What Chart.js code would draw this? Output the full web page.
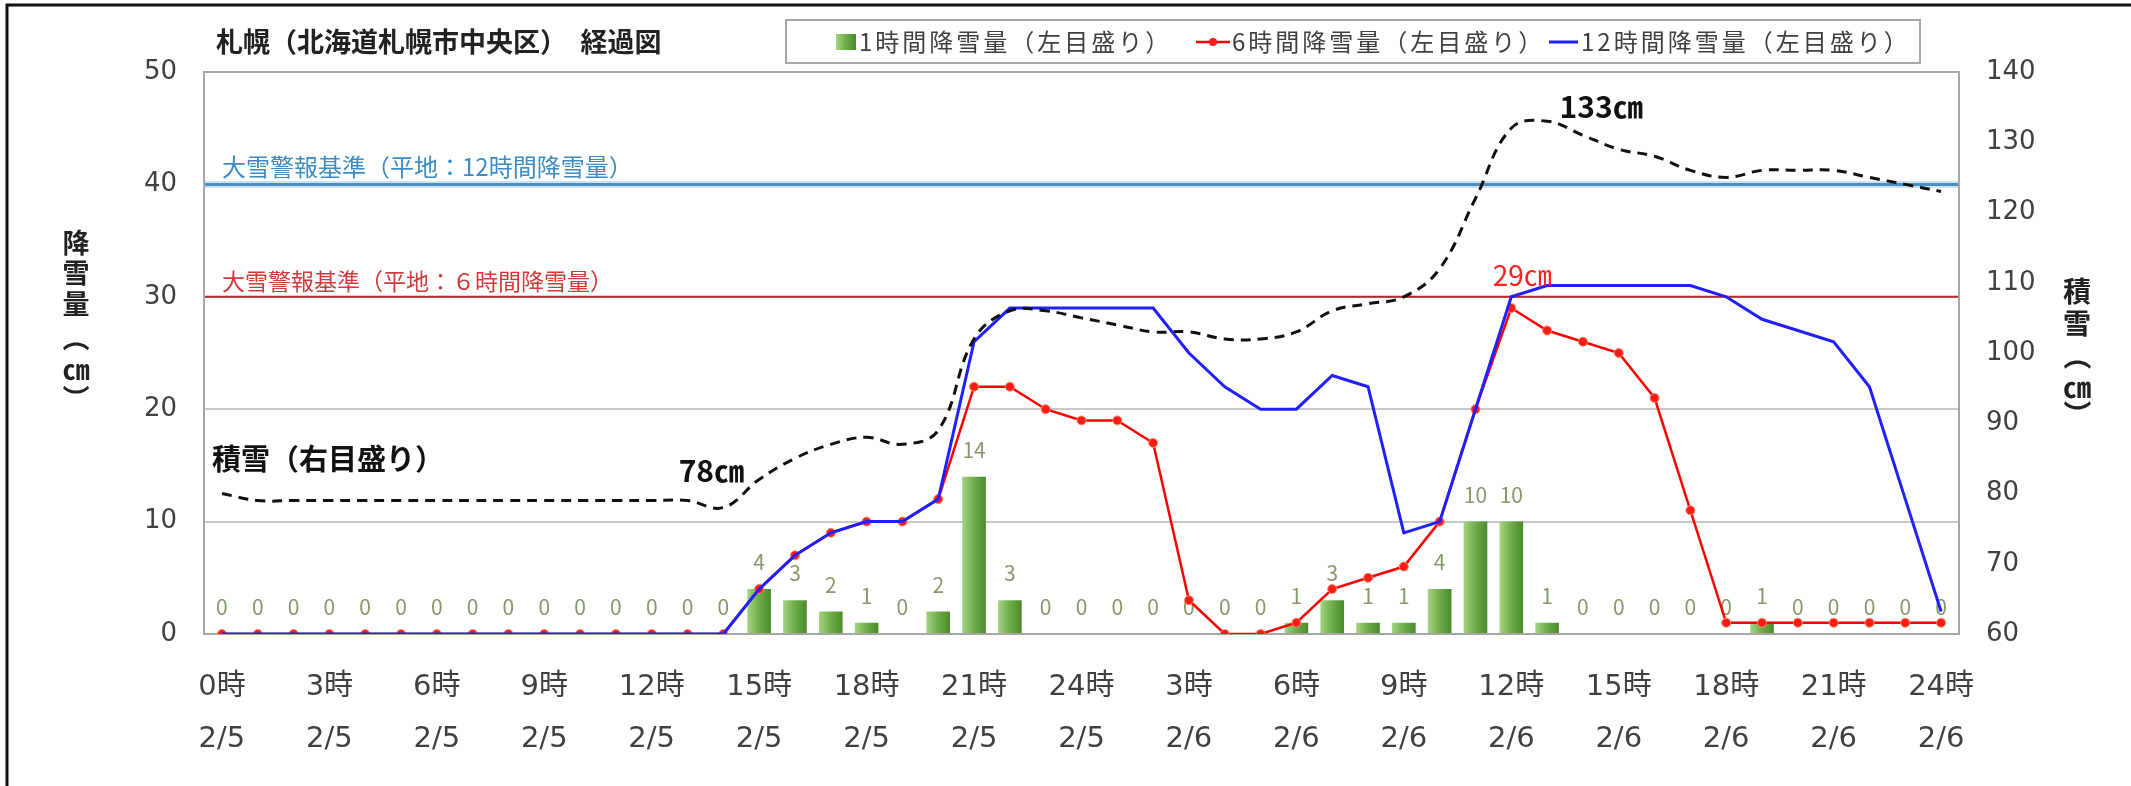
<!DOCTYPE html>
<html lang="ja">
<head>
<meta charset="utf-8">
<title>札幌（北海道札幌市中央区） 経過図</title>
<script src="https://cdn.jsdelivr.net/npm/chart.js@4.4.1/dist/chart.umd.min.js"></script>
<style>
  html, body { margin: 0; padding: 0; background: #fff; }
  #wrap { width: 2131px; height: 786px; }
</style>
</head>
<body>
<div id="wrap"><canvas id="snowChart" width="2131" height="786"></canvas></div>
<script>
// categories: hour + date
const categories = [
  "0時 2/5", "1時 2/5", "2時 2/5", "3時 2/5", "4時 2/5", "5時 2/5", "6時 2/5",
  "7時 2/5", "8時 2/5", "9時 2/5", "10時 2/5", "11時 2/5", "12時 2/5", "13時 2/5",
  "14時 2/5", "15時 2/5", "16時 2/5", "17時 2/5", "18時 2/5", "19時 2/5", "20時 2/5",
  "21時 2/5", "22時 2/5", "23時 2/5", "24時 2/5",
  "1時 2/6", "2時 2/6", "3時 2/6", "4時 2/6", "5時 2/6", "6時 2/6", "7時 2/6",
  "8時 2/6", "9時 2/6", "10時 2/6", "11時 2/6", "12時 2/6", "13時 2/6", "14時 2/6",
  "15時 2/6", "16時 2/6", "17時 2/6", "18時 2/6", "19時 2/6", "20時 2/6", "21時 2/6",
  "22時 2/6", "23時 2/6", "24時 2/6",
];

// 1時間降雪量 (cm)
const hourly = [
  0, 0, 0, 0, 0, 0, 0, 0, 0, 0, 0, 0, 0, 0, 0,
  4, 3, 2, 1, 0, 2, 14, 3,
  0, 0, 0, 0, 0, 0, 0,
  1, 3, 1, 1, 4, 10, 10, 1,
  0, 0, 0, 0, 0, 1, 0, 0, 0, 0, 0,
];

// 6時間降雪量 (cm)
const sixHour = [
  0, 0, 0, 0, 0, 0, 0, 0, 0, 0, 0, 0, 0, 0, 0,
  4, 7, 9, 10, 10, 12, 22, 22, 20, 19, 19, 17, 3, 0, 0,
  1, 4, 5, 6, 10, 20, 29, 27, 26, 25, 21, 11,
  1, 1, 1, 1, 1, 1, 1,
];

// 12時間降雪量 (cm)
const twelveHour = [
  0, 0, 0, 0, 0, 0, 0, 0, 0, 0, 0, 0, 0, 0, 0,
  4, 7, 9, 10, 10, 12, 26, 29, 29, 29, 29, 29, 25, 22, 20,
  20, 23, 22, 9, 10, 20, 30, 31, 31, 31, 31, 31,
  30, 28, 27, 26, 22, 12, 2,
];

// 積雪 (cm, right axis)
const depth = [
  80, 79, 79, 79, 79, 79, 79, 79, 79, 79, 79, 79, 79, 79, 78,
  82, 85, 87, 88, 87, 89, 102, 106, 106, 105, 104, 103, 103, 102, 102,
  103, 106, 107, 108, 112, 122, 132, 133, 131, 129, 128, 126,
  125, 126, 126, 126, 125, 124, 123,
];

// axis ticks
const leftTicks = [0, 10, 20, 30, 40, 50];
const rightTicks = [60, 70, 80, 90, 100, 110, 120, 130, 140];

// warning thresholds (left axis)
const warn12h = 40;
const warn6h = 30;

const FONT = '"Noto Sans CJK JP", "Noto Sans", sans-serif';
const TICKFONT = '"DejaVu Sans", "Noto Sans CJK JP", sans-serif';
const TXT = "#404040";
const barPct = 0.66;

Chart.defaults.font.family = FONT;

function barGradient(ctx, x, w) {
  const g = ctx.createLinearGradient(x - w / 2, 0, x + w / 2, 0);
  g.addColorStop(0, "#a6d483");
  g.addColorStop(0.45, "#72b04c");
  g.addColorStop(1, "#4a8a2c");
  return g;
}

// vertical (stacked) axis title, brackets turned 90deg
function drawVertical(ctx, chars, x, y0, steps, size) {
  ctx.save();
  ctx.font = "bold " + size + "px " + FONT;
  ctx.fillStyle = "#222";
  ctx.textAlign = "center";
  ctx.textBaseline = "middle";
  chars.forEach(function (c, i) {
    const y = y0 + steps[i];
    if (c === "（" || c === "）") {
      ctx.save();
      ctx.translate(x, y);
      ctx.rotate(Math.PI / 2);
      ctx.fillText(c, 0, 0);
      ctx.restore();
    } else {
      ctx.fillText(c, x, y);
    }
  });
  ctx.restore();
}

const decor = {
  id: "decor",
  beforeDraw(chart) {
    const { ctx } = chart;
    ctx.save();
    ctx.fillStyle = "#fff";
    ctx.fillRect(0, 0, chart.width, chart.height);
    // outer frame (top, left)
    ctx.strokeStyle = "#111";
    ctx.lineWidth = 3;
    ctx.beginPath();
    ctx.moveTo(7, chart.height);
    ctx.lineTo(7, 5);
    ctx.lineTo(chart.width, 5);
    ctx.stroke();
    ctx.restore();
  },
  beforeDatasetsDraw(chart) {
    const { ctx, chartArea } = chart;
    const yL = chart.scales.yL;
    ctx.save();
    // 12h warning line
    let y = yL.getPixelForValue(warn12h);
    ctx.strokeStyle = "rgba(150,200,230,0.5)";
    ctx.lineWidth = 7;
    ctx.beginPath();
    ctx.moveTo(chartArea.left, y);
    ctx.lineTo(chartArea.right, y);
    ctx.stroke();
    ctx.strokeStyle = "#4a8fc0";
    ctx.lineWidth = 3;
    ctx.beginPath();
    ctx.moveTo(chartArea.left, y);
    ctx.lineTo(chartArea.right, y);
    ctx.stroke();
    ctx.font = "24px " + FONT;
    ctx.textBaseline = "middle";
    ctx.fillStyle = "#3d8cc4";
    ctx.fillText("大雪警報基準（平地：12時間降雪量）", chartArea.left + 18, y - 18);
    // 6h warning line
    y = yL.getPixelForValue(warn6h);
    ctx.strokeStyle = "#b52a2a";
    ctx.lineWidth = 2;
    ctx.beginPath();
    ctx.moveTo(chartArea.left, y);
    ctx.lineTo(chartArea.right, y);
    ctx.stroke();
    ctx.font = "23px " + FONT;
    ctx.fillStyle = "#d03a3a";
    ctx.fillText("大雪警報基準（平地：６時間降雪量）", chartArea.left + 18, y - 16);
    // plot frame
    ctx.strokeStyle = "#a6a6a6";
    ctx.lineWidth = 2;
    ctx.strokeRect(chartArea.left, chartArea.top, chartArea.right - chartArea.left, chartArea.bottom - chartArea.top);
    ctx.restore();
  },
  afterDatasetDraw(chart, args) {
    if (args.index !== 0) return;
    // bar value labels
    const { ctx } = chart;
    ctx.save();
    ctx.font = "21px " + FONT;
    ctx.fillStyle = "#86996a";
    ctx.textAlign = "center";
    ctx.textBaseline = "middle";
    args.meta.data.forEach(function (bar, i) {
      ctx.fillText(String(hourly[i]), bar.x, bar.y - 27);
    });
    ctx.restore();
  },
  afterDatasetsDraw(chart) {
    const { ctx, chartArea } = chart;
    const x = chart.scales.x;
    const yL = chart.scales.yL;
    const yR = chart.scales.yR;
    ctx.save();
    ctx.textAlign = "center";
    ctx.textBaseline = "middle";
    ctx.fillStyle = "#111";
    ctx.font = "bold 30px " + FONT;
    ctx.fillText("78㎝", x.getPixelForValue(14) - 12, yR.getPixelForValue(depth[14]) - 37);
    ctx.fillText("133㎝", x.getPixelForValue(37) + 54, yR.getPixelForValue(depth[37]) - 15);
    ctx.font = "28px " + FONT;
    ctx.fillStyle = "#ff2020";
    ctx.fillText(sixHour[36] + "㎝", x.getPixelForValue(36) + 11, yL.getPixelForValue(sixHour[36]) - 33);
    ctx.textAlign = "left";
    ctx.fillStyle = "#111";
    ctx.font = "bold 29px " + FONT;
    ctx.fillText("積雪（右目盛り）", chartArea.left + 8, yL.getPixelForValue(15.6));
    ctx.restore();
  },
  afterDraw(chart) {
    const { ctx } = chart;
    const ds = chart.data.datasets;
    ctx.save();
    // title
    ctx.font = "bold 27px " + FONT;
    ctx.fillStyle = "#222";
    ctx.textBaseline = "middle";
    ctx.fillText("札幌（北海道札幌市中央区）　経過図", 216, 42);
    // legend box
    ctx.strokeStyle = "#a6a6a6";
    ctx.lineWidth = 2;
    ctx.strokeRect(786, 20, 1134, 43);
    ctx.font = "24px " + FONT;
    ctx.letterSpacing = "3px";
    // 1h bars
    ctx.fillStyle = barGradient(ctx, 846, 20);
    ctx.fillRect(836, 34, 20, 16);
    ctx.fillStyle = TXT;
    ctx.fillText(ds[0].label, 859, 42);
    // 6h line
    ctx.strokeStyle = ds[1].borderColor;
    ctx.lineWidth = 2.5;
    ctx.beginPath();
    ctx.moveTo(1196, 42);
    ctx.lineTo(1230, 42);
    ctx.stroke();
    ctx.fillStyle = ds[1].pointBackgroundColor;
    ctx.beginPath();
    ctx.arc(1213, 42, 4, 0, Math.PI * 2);
    ctx.fill();
    ctx.fillStyle = TXT;
    ctx.fillText(ds[1].label, 1232, 42);
    // 12h line
    ctx.strokeStyle = ds[2].borderColor;
    ctx.lineWidth = 3;
    ctx.beginPath();
    ctx.moveTo(1549, 42);
    ctx.lineTo(1578, 42);
    ctx.stroke();
    ctx.fillText(ds[2].label, 1581, 42);
    ctx.letterSpacing = "0px";
    ctx.restore();
    // axis titles
    drawVertical(ctx, ["降", "雪", "量", "（", "㎝", "）"], 76, 243, [0, 30, 61, 95, 127, 155], 27);
    drawVertical(ctx, ["積", "雪", "（", "㎝", "）"], 2077, 291, [0, 32, 65, 96, 123], 28);
  },
};

const ctx = document.getElementById("snowChart").getContext("2d");

const snowChart = new Chart(ctx, {
  type: "bar",
  data: {
    labels: categories,
    datasets: [
      {
        type: "bar",
        label: "1時間降雪量（左目盛り）",
        data: hourly,
        yAxisID: "yL",
        order: 4,
        barPercentage: barPct,
        categoryPercentage: 1,
        borderWidth: 0,
        backgroundColor: function (c) {
          const chart = c.chart;
          if (!chart.chartArea || !chart.scales.x) return "#6aa84f";
          const xs = chart.scales.x;
          const w = (xs.width / categories.length) * barPct;
          return barGradient(chart.ctx, xs.getPixelForValue(c.dataIndex), w);
        },
      },
      {
        type: "line",
        label: "6時間降雪量（左目盛り）",
        data: sixHour,
        yAxisID: "yL",
        order: 3,
        borderColor: "#ff0000",
        borderWidth: 2.5,
        pointRadius: 4.5,
        pointBackgroundColor: "#ff1a1a",
        pointBorderColor: "#ff9060",
        pointBorderWidth: 1,
        tension: 0,
      },
      {
        type: "line",
        label: "12時間降雪量（左目盛り）",
        data: twelveHour,
        yAxisID: "yL",
        order: 2,
        borderColor: "#1f1fff",
        borderWidth: 3,
        pointRadius: 0,
        tension: 0,
      },
      {
        type: "line",
        label: "積雪（右目盛り）",
        data: depth,
        yAxisID: "yR",
        order: 1,
        borderColor: "#111",
        borderWidth: 3,
        borderDash: [10, 7],
        pointRadius: 0,
        tension: 0.4,
      },
    ],
  },
  options: {
    responsive: false,
    animation: false,
    layout: {
      padding: { top: 72, left: 0, right: 0, bottom: 0 },
    },
    scales: {
      x: {
        type: "category",
        offset: true,
        grid: { display: false },
        border: { display: false },
        ticks: {
          autoSkip: false,
          maxRotation: 0,
          minRotation: 0,
          padding: 20,
          color: TXT,
          font: { family: TICKFONT, size: 29, lineHeight: 1.79 },
          callback: function (value, index) {
            return index % 3 === 0 ? categories[index].split(" ") : "";
          },
        },
        afterFit: function (s) {
          s.height = 152;
        },
      },
      yL: {
        position: "left",
        min: leftTicks[0],
        max: leftTicks[leftTicks.length - 1],
        grid: { color: "#c8c8c8", lineWidth: 2, drawTicks: false },
        border: { color: "#a6a6a6", width: 2 },
        afterBuildTicks: function (s) {
          s.ticks = leftTicks.map(function (v) { return { value: v }; });
        },
        ticks: {
          padding: 27,
          color: TXT,
          font: { family: TICKFONT, size: 26 },
        },
        afterFit: function (s) {
          s.width = 204;
        },
      },
      yR: {
        position: "right",
        min: rightTicks[0],
        max: rightTicks[rightTicks.length - 1],
        grid: { display: false, drawTicks: false },
        border: { color: "#a6a6a6", width: 2 },
        afterBuildTicks: function (s) {
          s.ticks = rightTicks.map(function (v) { return { value: v }; });
        },
        ticks: {
          padding: 27,
          color: TXT,
          font: { family: TICKFONT, size: 26 },
        },
        afterFit: function (s) {
          s.width = 172;
        },
      },
    },
    plugins: {
      legend: { display: false },
      tooltip: { enabled: false },
    },
  },
  plugins: [decor],
});
</script>
</body>
</html>
